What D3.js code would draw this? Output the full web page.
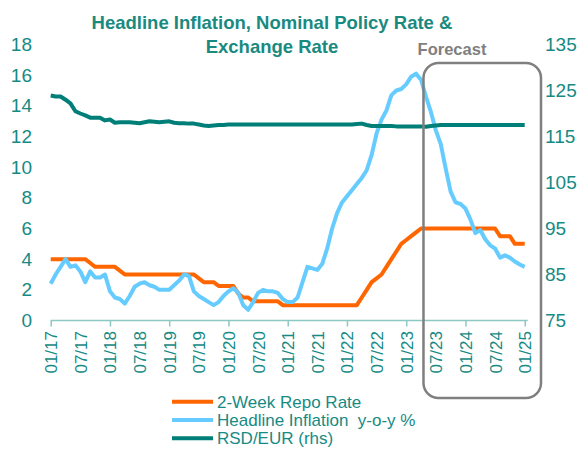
<!DOCTYPE html>
<html>
<head>
<meta charset="utf-8">
<script src="https://cdn.jsdelivr.net/npm/d3@7"></script>
<style>
  body { margin: 0; background: #fff; }
  svg { font-family: Arial, "Liberation Sans", sans-serif; }
</style>
</head>
<body>
<div id="chart"></div>
<script>
// monthly data, 01/17 .. 01/25
var repoRate = [
  4, 4, 4, 4, 4, 4, 4, 4, 3.75, 3.5, 3.5, 3.5,
  3.5, 3.5, 3.25, 3, 3, 3, 3, 3, 3, 3, 3, 3,
  3, 3, 3, 3, 3, 3, 2.75, 2.5, 2.5, 2.5, 2.25, 2.25,
  2.25, 2.25, 1.75, 1.5, 1.5, 1.25, 1.25, 1.25, 1.25, 1.25, 1.25, 1,
  1, 1, 1, 1, 1, 1, 1, 1, 1, 1, 1, 1,
  1, 1, 1, 1.5, 2, 2.5, 2.75, 3, 3.5, 4, 4.5, 5,
  5.25, 5.5, 5.75, 6, 6, 6, 6, 6, 6, 6, 6, 6,
  6, 6, 6, 6, 6, 6, 6, 5.5, 5.5, 5.5, 5, 5,
  5
];
var inflation = [
  2.4, 3.0, 3.5, 4.0, 3.5, 3.6, 3.2, 2.5, 3.2, 2.8, 2.8, 3.0,
  1.9, 1.5, 1.4, 1.1, 1.6, 2.2, 2.4, 2.5, 2.3, 2.2, 2.0, 2.0,
  2.0, 2.3, 2.6, 3.0, 2.9, 1.9, 1.6, 1.4, 1.2, 1.0, 1.2, 1.6,
  1.9, 2.1, 1.8, 1.0, 0.7, 1.2, 1.8, 2.0, 1.9, 1.9, 1.8, 1.4,
  1.2, 1.2, 1.5, 2.5, 3.5, 3.4, 3.3, 3.7, 4.7, 6.0, 7.0, 7.7,
  8.1, 8.5, 8.9, 9.3, 9.8, 10.8, 12.2, 13.1, 13.7, 14.7, 15.0, 15.1,
  15.4, 15.9, 16.1, 15.7, 14.6, 13.6, 12.4, 11.5, 9.9, 8.4, 7.7, 7.6,
  7.3, 6.6, 5.7, 5.9, 5.3, 4.9, 4.7, 4.1, 4.25, 4.1, 3.85, 3.65,
  3.5
];
var rsdEur = [
  123.9, 123.7, 123.7, 123.0, 122.2, 120.5, 120.0, 119.6, 119.1, 119.1, 119.1, 118.5,
  118.7, 118.0, 118.1, 118.1, 118.1, 118.0, 117.9, 118.1, 118.3, 118.2, 118.1, 118.2,
  118.3, 118.0, 117.9, 117.9, 117.8, 117.8, 117.6, 117.4, 117.3, 117.4, 117.5, 117.5,
  117.6, 117.6, 117.6, 117.6, 117.6, 117.6, 117.6, 117.6, 117.6, 117.6, 117.6, 117.6,
  117.6, 117.6, 117.6, 117.6, 117.6, 117.6, 117.6, 117.6, 117.6, 117.6, 117.6, 117.6,
  117.6, 117.6, 117.7, 117.8, 117.5, 117.3, 117.3, 117.3, 117.3, 117.3, 117.2, 117.2,
  117.2, 117.2, 117.2, 117.2, 117.1, 117.3, 117.4, 117.5, 117.5, 117.5, 117.5, 117.5,
  117.5, 117.5, 117.5, 117.5, 117.5, 117.5, 117.5, 117.5, 117.5, 117.5, 117.5, 117.5,
  117.5
];
var tickLabels = ["01/17","07/17","01/18","07/18","01/19","07/19","01/20","07/20","01/21",
                  "07/21","01/22","07/22","01/23","07/23","01/24","07/24","01/25"];
var leftTicks = [0, 2, 4, 6, 8, 10, 12, 14, 16, 18];
var rightTicks = [75, 85, 95, 105, 115, 125, 135];
var forecastFrom = "05/23";

var series = [
  {name: "2-Week Repo Rate", values: repoRate, color: "#ff6600", axis: "left"},
  {name: "Headline Inflation  y-o-y %", values: inflation, color: "#66ccff", axis: "left"},
  {name: "RSD/EUR (rhs)", values: rsdEur, color: "#007f79", axis: "right"}
];

var months = d3.timeMonth.range(new Date(2017, 0, 1), new Date(2025, 1, 1))
  .map(d3.timeFormat("%m/%y"));

var W = 583, H = 449;
var textColor = "#168a84";

var svg = d3.select("#chart").append("svg")
    .attr("width", W)
    .attr("height", H);

var x = d3.scalePoint().domain(months).range([50.7, 524.7]);
var yL = d3.scaleLinear().domain([0, 18]).range([320.5, 44.5]);
var yR = d3.scaleLinear().domain([75, 135]).range([320.5, 44.5]);

// title
svg.append("text")
    .attr("x", 272).attr("y", 29)
    .attr("text-anchor", "middle")
    .style("font-weight", "bold").style("font-size", "18.5px")
    .attr("fill", "#198a80")
    .text("Headline Inflation, Nominal Policy Rate &");
svg.append("text")
    .attr("x", 272).attr("y", 53)
    .attr("text-anchor", "middle")
    .style("font-weight", "bold").style("font-size", "18.5px")
    .attr("fill", "#198a80")
    .text("Exchange Rate");

// left axis
var gl = svg.append("g")
    .attr("transform", "translate(35,0)")
    .call(d3.axisLeft(yL).tickValues(leftTicks).tickSize(0).tickPadding(3));
gl.select(".domain").remove();
gl.selectAll("text").style("font-size", "19px").style("font-family", "Arial, 'Liberation Sans', sans-serif").attr("fill", textColor);

// right axis
var gr = svg.append("g")
    .attr("transform", "translate(545,0)")
    .call(d3.axisRight(yR).tickValues(rightTicks).tickSize(0).tickPadding(0));
gr.select(".domain").remove();
gr.selectAll("text").style("font-size", "19px").style("font-family", "Arial, 'Liberation Sans', sans-serif").attr("fill", textColor);

// bottom axis
var gx = svg.append("g")
    .attr("transform", "translate(0," + yL(0) + ")")
    .call(d3.axisBottom(x).tickValues(tickLabels).tickSize(6).tickSizeOuter(0));
gx.select(".domain")
    .attr("d", "M" + x.range()[0] + ",0H" + (x.range()[1] + 3))
    .attr("stroke", "#8cc8c4").attr("stroke-width", 1.5);
gx.selectAll(".tick line")
    .attr("stroke", "#8cc8c4").attr("stroke-width", 1.5)
    .filter(function(d){ return d.slice(0, 2) !== "01"; }).remove();
gx.selectAll(".tick text")
    .attr("transform", "rotate(-90)")
    .attr("text-anchor", "end")
    .attr("x", -10.5).attr("y", 0).attr("dy", "0.35em")
    .style("font-size", "17px").style("font-family", "Arial, 'Liberation Sans', sans-serif")
    .attr("fill", textColor);

// lines
series.forEach(function(s){
  var yy = s.axis === "left" ? yL : yR;
  var line = d3.line()
    .x(function(d, i){ return x(months[i]); })
    .y(function(d){ return yy(d); });
  svg.append("path")
      .datum(s.values)
      .attr("d", line)
      .attr("fill", "none")
      .attr("stroke", s.color)
      .attr("stroke-width", 4)
      .attr("stroke-linejoin", "round");
});

// forecast box
var step = x.step();
var boxX = x(forecastFrom) - step / 2;
svg.append("rect")
    .attr("x", boxX).attr("y", 63)
    .attr("width", 541 - boxX).attr("height", 335)
    .attr("rx", 15).attr("ry", 15)
    .attr("fill", "none")
    .attr("stroke", "#7f7f7f").attr("stroke-width", 2.5);
svg.append("text")
    .attr("x", 452).attr("y", 55)
    .attr("text-anchor", "middle")
    .style("font-weight", "bold").style("font-size", "16.5px")
    .attr("fill", "#7f7f7f")
    .text("Forecast");

// legend
var lg = svg.append("g").attr("transform", "translate(172,401.7)");
var item = lg.selectAll("g").data(series).enter().append("g")
    .attr("transform", function(d, i){ return "translate(0," + (i * 18.3) + ")"; });
item.append("line")
    .attr("x1", 0).attr("x2", 41)
    .attr("stroke", function(d){ return d.color; })
    .attr("stroke-width", 4);
item.append("text")
    .attr("x", 45).attr("dy", "0.36em")
    .style("font-size", "17px")
    .attr("fill", textColor)
    .style("white-space", "pre")
    .text(function(d){ return d.name; });
</script>
</body>
</html>
